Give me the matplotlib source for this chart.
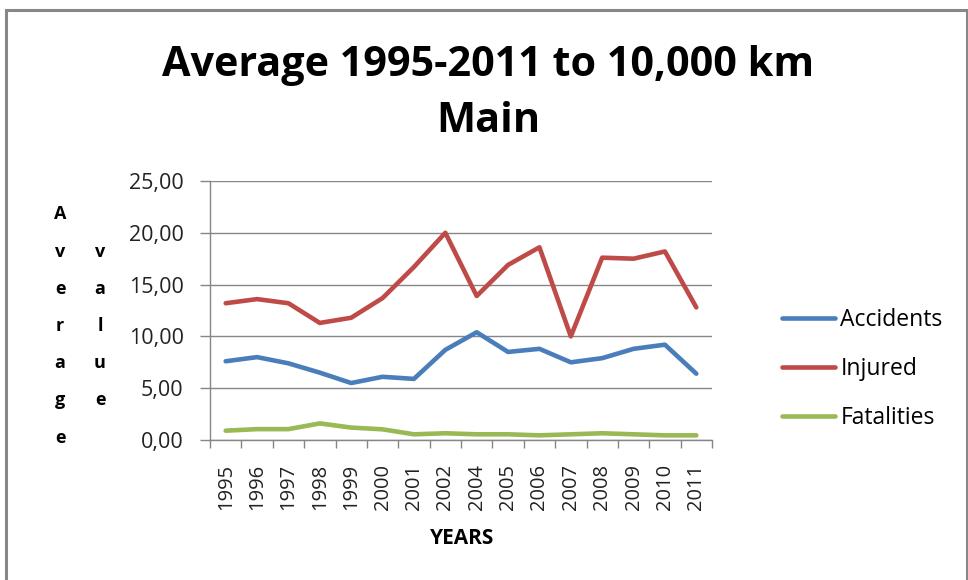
import matplotlib.pyplot as plt
from matplotlib.patches import Rectangle
import numpy as np

years = ['1995', '1996', '1997', '1998', '1999', '2000', '2001', '2002',
         '2004', '2005', '2006', '2007', '2008', '2009', '2010', '2011']
accidents = [7.6, 8.0, 7.4, 6.5, 5.5, 6.1, 5.9, 8.7,
             10.4, 8.5, 8.8, 7.5, 7.9, 8.8, 9.2, 6.4]
injured = [13.2, 13.6, 13.2, 11.3, 11.8, 13.7, 16.7, 20.0,
           13.9, 16.9, 18.6, 10.0, 17.6, 17.5, 18.2, 12.8]
fatalities = [0.9, 1.05, 1.05, 1.6, 1.2, 1.03, 0.55, 0.65,
              0.55, 0.55, 0.45, 0.55, 0.65, 0.55, 0.45, 0.45]
yticks = [0, 5, 10, 15, 20, 25]

plt.rcParams['font.family'] = ['Open Sans', 'DejaVu Sans']

fig = plt.figure(figsize=(9.68, 5.8), dpi=100)
fig.patches.append(Rectangle((6 / 968, -0.1), 961 / 968, 1.1 - 10 / 580,
                             transform=fig.transFigure, fill=False,
                             edgecolor='#878787', linewidth=2.2))
ax = fig.add_axes([210 / 968, 1 - 440 / 580, 502 / 968, 259 / 580])

x = np.arange(len(years))
lw = 3.3
ax.plot(x, accidents, color='#4A7EBB', linewidth=lw, label='Accidents',
        solid_capstyle='round')
ax.plot(x, injured, color='#BE4B48', linewidth=lw, label='Injured',
        solid_capstyle='round')
ax.plot(x, fatalities, color='#98B954', linewidth=lw, label='Fatalities',
        solid_capstyle='round')

ax.set_xlim(-0.5, len(years) - 0.5)
ax.set_ylim(0, 25)
ax.set_yticks(yticks)
ax.set_yticklabels([f'{v:.2f}'.replace('.', ',') for v in yticks])
ax.yaxis.grid(True, color='#868686', linewidth=1.0)
ax.set_axisbelow(True)

ax.set_xticks(x)
ax.set_xticklabels(years, rotation=90)
ax.set_xticks(np.arange(len(years) + 1) - 0.5, minor=True)
ax.tick_params(axis='x', which='major', length=0, pad=17, labelsize=14.5)
ax.tick_params(axis='x', which='minor', length=6, width=1, color='#868686',
               direction='out')
ax.tick_params(axis='y', length=7, width=1, color='#868686', labelsize=15.5,
               pad=12)
for lbl in ax.get_yticklabels() + ax.get_xticklabels():
    lbl.set_color('#222222')

for s in ['top', 'right']:
    ax.spines[s].set_visible(False)
for s in ['left', 'bottom']:
    ax.spines[s].set_color('#868686')
    ax.spines[s].set_linewidth(1.0)

fig.text(488 / 968, 1 - 66 / 580, 'Average 1995-2011 to 10,000 km',
         ha='center', va='center', fontsize=29.8, fontweight='bold')
fig.text(488 / 968, 1 - 122 / 580, 'Main',
         ha='center', va='center', fontsize=29.8, fontweight='bold')

fig.text(462 / 968, 1 - 538 / 580, 'YEARS', ha='center', va='center',
         fontsize=15, fontweight='bold')

fig.text(60 / 968, 1 - 326 / 580, '\n'.join('Average'), ha='center',
         va='center', fontsize=13, fontweight='bold', linespacing=2.37)
fig.text(100 / 968, 1 - 326 / 580, '\n'.join('value'), ha='center',
         va='center', fontsize=13, fontweight='bold', linespacing=2.37)

ax.legend(loc='center left', bbox_to_anchor=(1.098, 0.274), frameon=False,
          fontsize=16.5, handlelength=2.3, handletextpad=0.25,
          labelspacing=1.1)

fig.savefig('out.png', dpi=100)
